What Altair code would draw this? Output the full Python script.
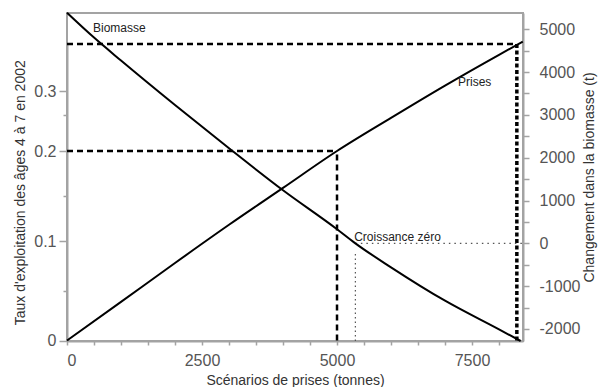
import altair as alt
import pandas as pd

# ---- data ----
catch_prises = [0, 1000, 2000, 3000, 4000, 5000, 6000, 7000, 8000, 8440]
f_prises = [0, 0.039, 0.078, 0.118, 0.159, 0.2, 0.246, 0.3115, 0.377, 0.405]

catch_bio = [0, 500, 1000, 2000, 3000, 4000, 5000, 5340, 6000, 7000, 8000, 8400]
bio_change = [5385, 4805, 4270, 3230, 2220, 1240, 330, 0, -560, -1340, -2010, -2281]

# left-axis (exploitation rate) scale breakpoints and their pixel positions
f_breaks = [0, 0.05, 0.1, 0.15, 0.2, 0.25, 0.3, 0.4]
f_pixels = [327.5, 278, 228, 183, 138, 102, 78, 31]

f_ticks = [0, 0.05, 0.1, 0.15, 0.2, 0.25, 0.3]
x_ticks = list(range(0, 8001, 500))
bio_ticks = list(range(-2000, 5001, 500))

# reference lines
dash_f = [0.2, 0.4]
dash_catch = [5000, 8330]
zero_catch = 5340

labels = ["Biomasse", "Prises", "Croissance zéro"]
label_x = [481, 7241, 5318]
label_y = [5041, 3766, 150]

X_MAX = 8444
BIO_MIN, BIO_MAX = -2281, 5380

FONT = "Liberation Sans"
GRAY = "#a3a3a3"

x_scale = alt.Scale(domain=[0, X_MAX], nice=False, zero=False)
f_scale = alt.Scale(domain=f_breaks, range=f_pixels, nice=False, zero=False)
b_scale = alt.Scale(domain=[BIO_MIN, BIO_MAX], nice=False, zero=False)

x_axis = alt.Axis(
    values=x_ticks,
    labelExpr="datum.value % 2500 == 0 ? '' + datum.value : ''",
    title="Scénarios de prises (tonnes)",
    grid=False, tickSize=4, labelPadding=7, titlePadding=5,
)
f_axis = alt.Axis(
    values=f_ticks,
    labelExpr="round(datum.value*20) % 2 == 0 ? format(datum.value, '.1~f') : ''",
    tickSize={"condition": {"test": "round(datum.value*20) % 2 == 0", "value": 8}, "value": 4},
    title="Taux d'exploitation des âges 4 à 7 en 2002",
    grid=False, labelPadding=3, titlePadding=6, orient="left",
)
b_axis = alt.Axis(
    values=bio_ticks,
    labelExpr="datum.value % 1000 == 0 ? '' + datum.value : ''",
    title="Changement dans la biomasse (t)",
    grid=False, tickSize=6, labelPadding=10, titlePadding=3, orient="right",
    titleAngle=270, titleBaseline="top",
)

X = alt.X("catch:Q", scale=x_scale, axis=x_axis)
YF = alt.Y("F:Q", scale=f_scale, axis=f_axis)
YB = alt.Y("B:Q", scale=b_scale, axis=b_axis)

df_prises = pd.DataFrame({"catch": catch_prises, "F": f_prises})
df_bio = pd.DataFrame({"catch": catch_bio, "B": bio_change})

df_hdash = pd.DataFrame({"catch": [0, 0], "catch2": dash_catch, "F": dash_f})
df_vdash1 = pd.DataFrame({"catch": [dash_catch[0]], "F": [0], "F2": [dash_f[0]]})
df_vdash2 = pd.DataFrame({"catch": [dash_catch[1]], "F": [0], "F2": [dash_f[1]]})

df_hdot = pd.DataFrame({"catch": [zero_catch], "catch2": [X_MAX], "B": [0]})
df_vdot = pd.DataFrame({"catch": [zero_catch], "B": [BIO_MIN], "B2": [-200]})
df_text = pd.DataFrame({"catch": label_x, "B": label_y, "t": labels})

prises = alt.Chart(df_prises).mark_line(color="black", strokeWidth=2, interpolate="monotone").encode(x=X, y=YF)
hdash = alt.Chart(df_hdash).mark_rule(color="black", strokeWidth=2.5, strokeDash=[6, 4]).encode(
    x=X, x2="catch2:Q", y=YF)
vdash1 = alt.Chart(df_vdash1).mark_rule(color="black", strokeWidth=2.5, strokeDash=[6, 4]).encode(
    x=X, y=YF, y2="F2:Q")
vdash2 = alt.Chart(df_vdash2).mark_rule(color="black", strokeWidth=3.5, strokeDash=[4, 2.5]).encode(
    x=X, y=YF, y2="F2:Q")

left = alt.layer(hdash, vdash1, vdash2, prises)

bio = alt.Chart(df_bio).mark_line(color="black", strokeWidth=2, interpolate="monotone").encode(x=X, y=YB)
hdot = alt.Chart(df_hdot).mark_rule(color="#555", strokeWidth=1.2, strokeDash=[1.5, 4]).encode(
    x=X, x2="catch2:Q", y=YB)
vdot = alt.Chart(df_vdot).mark_rule(color="#555", strokeWidth=1.2, strokeDash=[1.5, 3]).encode(
    x=X, y=YB, y2="B2:Q")
text = alt.Chart(df_text).mark_text(
    align="left", baseline="middle", fontSize=12, font=FONT, color="#222"
).encode(x=X, y=YB, text="t:N")

right = alt.layer(hdot, vdot, bio, text)

chart = alt.layer(left, right).resolve_scale(y="independent").properties(
    width=456, height=328,
    padding={"left": 5, "right": 5, "top": 0, "bottom": 0},
).configure_view(
    stroke=GRAY, strokeWidth=2
).configure_axis(
    domainColor=GRAY, domainWidth=2, tickColor=GRAY, tickWidth=1.5,
    labelColor="#555", labelFontSize=16, labelFont=FONT,
    titleColor="#333", titleFontSize=14, titleFont=FONT, titleFontWeight="normal",
)

chart.save("out.html", embed_options={"renderer": "svg", "actions": False})
